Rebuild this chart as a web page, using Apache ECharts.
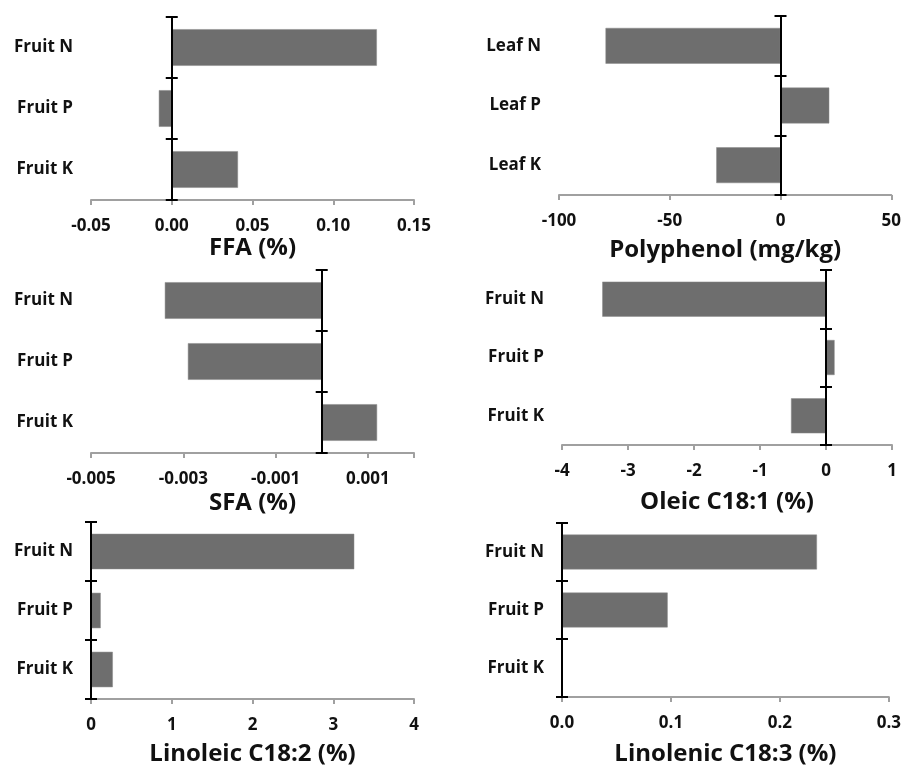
<!DOCTYPE html>
<html>
<head>
<meta charset="utf-8">
<script src="https://cdn.jsdelivr.net/npm/echarts@6/dist/echarts.min.js"></script>
<style>
html,body{margin:0;padding:0;background:#fff;}
#chart{width:904px;height:767px;}
</style>
</head>
<body>
<div id="chart"></div>
<script>
// ---- data ----
const fruitCategories = ['Fruit N', 'Fruit P', 'Fruit K'];
const leafCategories = ['Leaf N', 'Leaf P', 'Leaf K'];

const ffaValues = [0.127, -0.008, 0.041];
const polyphenolValues = [-79, 22, -29];
const sfaValues = [-0.0034, -0.0029, 0.0012];
const oleicValues = [-3.39, 0.13, -0.53];
const linoleicValues = [3.26, 0.12, 0.27];
const linolenicValues = [0.234, 0.097, 0];

const ffaTicks = [-0.05, 0, 0.05, 0.10, 0.15];
const polyphenolTicks = [-100, -50, 0, 50];
const sfaTicks = [-0.005, -0.003, -0.001, 0.001];
const oleicTicks = [-4, -3, -2, -1, 0, 1];
const linoleicTicks = [0, 1, 2, 3, 4];
const linolenicTicks = [0, 0.1, 0.2, 0.3];

const panels = [
  {name: 'FFA (%)', cats: fruitCategories, values: ffaValues, ticks: ffaTicks, min: -0.05, max: 0.15, dec: 2,
   grid: {left: 91, top: 17, width: 323, height: 183}, nameGap: 35},
  {name: 'Polyphenol (mg/kg)', cats: leafCategories, values: polyphenolValues, ticks: polyphenolTicks, min: -100, max: 50, dec: 0,
   grid: {left: 559, top: 16, width: 335, height: 179}, nameGap: 43},
  {name: 'SFA (%)', cats: fruitCategories, values: sfaValues, ticks: sfaTicks, min: -0.005, max: 0.002, dec: 3,
   grid: {left: 91, top: 270, width: 323, height: 183}, nameGap: 38},
  {name: 'Oleic C18:1 (%)', cats: fruitCategories, values: oleicValues, ticks: oleicTicks, min: -4, max: 1, dec: 0,
   grid: {left: 562, top: 270, width: 330, height: 175}, nameGap: 45},
  {name: 'Linoleic C18:2 (%)', cats: fruitCategories, values: linoleicValues, ticks: linoleicTicks, min: 0, max: 4, dec: 0,
   grid: {left: 91, top: 522, width: 323, height: 179}, nameGap: 43},
  {name: 'Linolenic C18:3 (%)', cats: fruitCategories, values: linolenicValues, ticks: linolenicTicks, min: 0, max: 0.3, dec: 1,
   grid: {left: 562, top: 523, width: 330, height: 179}, nameGap: 45}
];

const FONT = '"Open Sans", "DejaVu Sans", sans-serif';
const grids = [], xAxes = [], yAxes = [], series = [];

panels.forEach((p, i) => {
  grids.push(Object.assign({containLabel: false}, p.grid));
  const tickVals = p.ticks.slice();
  if (tickVals.indexOf(p.max) < 0) tickVals.push(p.max);
  xAxes.push({
    type: 'value', gridIndex: i, min: p.min, max: p.max,
    name: p.name, nameLocation: 'middle', nameGap: p.nameGap,
    nameTextStyle: {fontFamily: FONT, fontWeight: 'bold', fontSize: 24, color: '#111'},
    axisLine: {show: true, onZero: false, lineStyle: {color: '#a0a0a0', width: 2}},
    axisTick: {show: true, length: 5, lineStyle: {color: '#a0a0a0', width: 2}, customValues: tickVals},
    axisLabel: {fontFamily: FONT, fontWeight: 'bold', fontSize: 17, color: '#111', margin: 18,
      customValues: p.ticks, formatter: v => Number(v).toFixed(p.dec)},
    splitLine: {show: false}
  });
  // label axis at grid left
  yAxes.push({
    type: 'category', gridIndex: i, data: p.cats, inverse: true, position: 'left',
    axisLine: {show: false, onZero: false}, axisTick: {show: false},
    axisLabel: {fontFamily: FONT, fontWeight: 'bold', fontSize: 17, color: '#111', margin: 18},
    splitLine: {show: false}
  });
  // black zero line with ticks outside
  yAxes.push({
    type: 'category', gridIndex: i, data: p.cats, inverse: true, position: 'left', z: 5,
    axisLine: {show: true, onZero: true, onZeroAxisIndex: i, lineStyle: {color: '#000', width: 2}},
    axisTick: {show: true, inside: false, length: 6, lineStyle: {color: '#000', width: 2}},
    axisLabel: {show: false}, splitLine: {show: false}
  });
  // ticks inside
  yAxes.push({
    type: 'category', gridIndex: i, data: p.cats, inverse: true, position: 'left', z: 5,
    axisLine: {show: false, onZero: true, onZeroAxisIndex: i},
    axisTick: {show: true, inside: true, length: 6, lineStyle: {color: '#000', width: 2}},
    axisLabel: {show: false}, splitLine: {show: false}
  });
  series.push({
    type: 'bar', xAxisIndex: i, yAxisIndex: 3 * i, data: p.values,
    barWidth: '60%', itemStyle: {color: '#6e6e6e', borderColor: '#8a8a8a', borderWidth: 0.5},
    silent: true, animation: false
  });
});

const chart = echarts.init(document.getElementById('chart'), null, {renderer: 'canvas'});
chart.setOption({
  backgroundColor: '#fff',
  animation: false,
  grid: grids, xAxis: xAxes, yAxis: yAxes, series: series
});
</script>
</body>
</html>
